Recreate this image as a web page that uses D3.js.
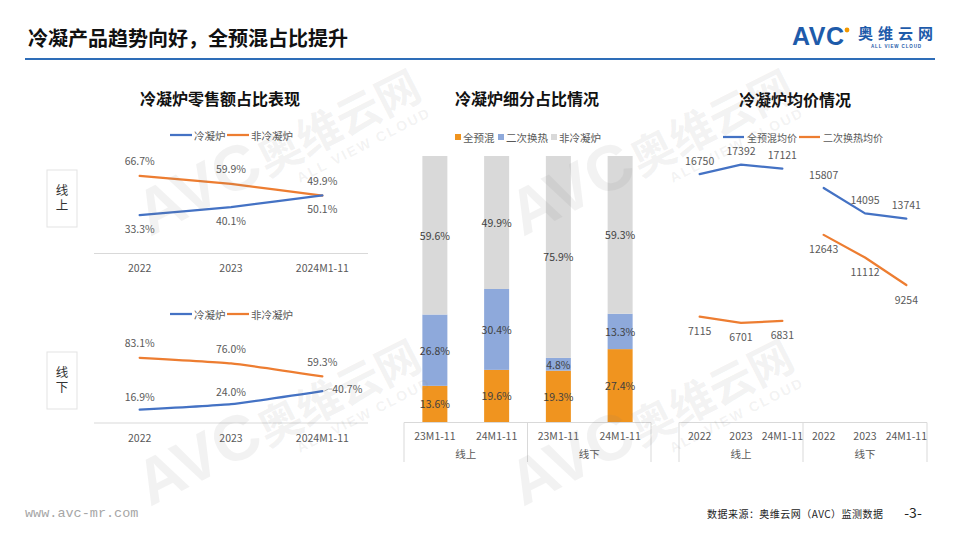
<!DOCTYPE html>
<html><head><meta charset="utf-8">
<script src="https://cdn.jsdelivr.net/npm/d3@7"></script>
<style>
html,body{margin:0;padding:0;background:#fff;}
svg{display:block;font-family:"Noto Sans CJK SC","Noto Sans",sans-serif;}
</style></head>
<body>
<svg id="chart" width="960" height="540"></svg>
<script>
// ---------------- DATA ----------------
const lineYears = ["2022", "2023", "2024M1-11"];
const lineSeriesNames = ["冷凝炉", "非冷凝炉"];
const onlineCondensing = [33.3, 40.1, 50.1];
const onlineNonCondensing = [66.7, 59.9, 49.9];
const offlineCondensing = [16.9, 24.0, 40.7];
const offlineNonCondensing = [83.1, 76.0, 59.3];

const barPeriods = ["23M1-11", "24M1-11", "23M1-11", "24M1-11"];
const barChannels = ["线上", "线上", "线下", "线下"];
const barSeriesNames = ["全预混", "二次换热", "非冷凝炉"];
const premixShare = [13.6, 19.6, 19.3, 27.4];
const secondaryShare = [26.8, 30.4, 4.8, 13.3];
const nonCondShare = [59.6, 49.9, 75.9, 59.3];

const priceYears = ["2022", "2023", "24M1-11"];
const priceChannels = ["线上", "线下"];
const priceSeriesNames = ["全预混均价", "二次换热均价"];
const premixPriceOnline = [16750, 17392, 17121];
const premixPriceOffline = [15807, 14095, 13741];
const secondaryPriceOnline = [7115, 6701, 6831];
const secondaryPriceOffline = [12643, 11112, 9254];

// ---------------- STYLE ----------------
const BLUE = "#4472C4", ORANGE = "#ED7D31";
const BAR_COLORS = ["#F0941F", "#8EA9DB", "#D9D9D9"];
const TXT = "#595959", AXIS = "#D9D9D9";
const svg = d3.select("#chart");

// Header
svg.append("text").attr("x", 28).attr("y", 37).attr("dominant-baseline", "central")
  .attr("font-size", 20).attr("font-weight", "bold").attr("fill", "#111")
  .text("冷凝产品趋势向好，全预混占比提升");
svg.append("line").attr("x1", 25).attr("x2", 935).attr("y1", 59).attr("y2", 59)
  .attr("stroke", "#2E6DB8").attr("stroke-width", 2);
// logo
svg.append("text").attr("x", 792).attr("y", 45).attr("font-family", "Liberation Sans, Arial")
  .attr("font-size", 25).attr("font-weight", "bold").attr("fill", "#1E5BAA").attr("textLength", 52).text("AVC");
svg.append("circle").attr("cx", 847).attr("cy", 30).attr("r", 2.4).attr("fill", "#F39800");
svg.append("text").attr("x", 858).attr("y", 39).attr("font-size", 15).attr("font-weight", "bold")
  .attr("fill", "#1E5BAA").attr("textLength", 75).text("奥维云网");
svg.append("text").attr("x", 871).attr("y", 47.5).attr("font-family", "Liberation Sans, Arial")
  .attr("font-size", 4.5).attr("font-weight", "bold").attr("fill", "#1E5BAA").attr("textLength", 50).text("ALL VIEW CLOUD");

// Footer
svg.append("text").attr("x", 25).attr("y", 513).attr("dominant-baseline", "central")
  .attr("font-family", "Liberation Mono, DejaVu Sans Mono").attr("font-size", 13.5).attr("fill", "#A6A6A6")
  .text("www.avc-mr.com");
svg.append("text").attr("x", 707).attr("y", 513).attr("dominant-baseline", "central")
  .attr("font-size", 10).attr("fill", "#222").attr("textLength", 176).text("数据来源：奥维云网（AVC）监测数据");
svg.append("text").attr("x", 913).attr("y", 512).attr("dominant-baseline", "central").attr("text-anchor", "middle")
  .attr("font-size", 14).attr("fill", "#222").text("-3-");

function label(g, x, y, txt, opts = {}) {
  return g.append("text").attr("x", x).attr("y", y).attr("dominant-baseline", "central")
    .attr("text-anchor", opts.anchor || "middle").attr("font-size", opts.size || 10.5)
    .attr("fill", opts.fill || TXT).attr("font-weight", opts.weight || null).text(txt);
}

// ---------------- LEFT: line charts ----------------
label(svg, 220, 98, "冷凝炉零售额占比表现", {size: 16, weight: "bold", fill: "#111"});

const xLine = d3.scaleBand().domain(lineYears).range([94, 368]);
function lineLegend(y) {
  const items = [{n: lineSeriesNames[0], c: BLUE, x: 170}, {n: lineSeriesNames[1], c: ORANGE, x: 227}];
  items.forEach(it => {
    svg.append("line").attr("x1", it.x).attr("x2", it.x + 22).attr("y1", y).attr("y2", y)
      .attr("stroke", it.c).attr("stroke-width", 2.25);
    label(svg, it.x + 24, y, it.n, {anchor: "start", size: 10.5});
  });
}
function lineChart(cfg) {
  const y = d3.scaleLinear().domain([0, 100]).range(cfg.range);
  const g = svg.append("g");
  g.append("line").attr("x1", 94).attr("x2", 368).attr("y1", cfg.axisY).attr("y2", cfg.axisY)
    .attr("stroke", AXIS).attr("stroke-width", 1);
  lineYears.forEach(yr => label(g, xLine(yr) + xLine.bandwidth() / 2, cfg.axisY + 14, yr));
  const line = d3.line().x((d, i) => xLine(lineYears[i]) + xLine.bandwidth() / 2).y(d => y(d))
    .curve(d3.curveCardinal.tension(0.6));
  cfg.series.forEach(s => {
    g.append("path").datum(s.vals).attr("d", line).attr("fill", "none")
      .attr("stroke", s.color).attr("stroke-width", 2.25).attr("stroke-linecap", "round");
    s.vals.forEach((v, i) => {
      const px = xLine(lineYears[i]) + xLine.bandwidth() / 2, py = y(v);
      const off = (s.offsets && s.offsets[i]) || [0, s.dy];
      if (off[2]) {
        g.append("path").attr("d", `M${px + 2},${py} Q${px + 6},${py - 3} ${px + 10},${py - 2}`)
          .attr("fill", "none").attr("stroke", "#A6A6A6").attr("stroke-width", 0.8);
      }
      label(g, px + off[0], py + off[1], v.toFixed(1) + "%");
    });
  });
  // channel box
  g.append("rect").attr("x", 47).attr("y", cfg.boxY).attr("width", 30).attr("height", 57)
    .attr("fill", "none").attr("stroke", "#E3E3E3").attr("stroke-width", 1);
  g.append("text").attr("x", 62).attr("y", cfg.boxY + 28.5)
    .attr("writing-mode", "vertical-rl").attr("text-anchor", "middle")
    .attr("letter-spacing", 2.5).attr("font-size", 12.5).attr("fill", "#333").text(cfg.ch);
}
lineLegend(135);
lineChart({range: [254, 137], axisY: 253.5, boxY: 170, ch: "线上",
  series: [{vals: onlineNonCondensing, color: ORANGE, dy: -15},
           {vals: onlineCondensing, color: BLUE, dy: 13}]});
lineLegend(314);
lineChart({range: [423, 344.5], axisY: 423, boxY: 352, ch: "线下",
  series: [{vals: offlineNonCondensing, color: ORANGE, dy: -15},
           {vals: offlineCondensing, color: BLUE, dy: -13, offsets: [null, null, [25, -3, true]]}]});

// ---------------- MIDDLE: stacked bars ----------------
label(svg, 527, 98, "冷凝炉细分占比情况", {size: 16, weight: "bold", fill: "#111"});
[{n: barSeriesNames[0], x: 455}, {n: barSeriesNames[1], x: 498}, {n: barSeriesNames[2], x: 551}].forEach((it, i) => {
  svg.append("rect").attr("x", it.x).attr("y", 134).attr("width", 6).attr("height", 6).attr("fill", BAR_COLORS[i]);
  label(svg, it.x + 8, 137, it.n, {anchor: "start", size: 10.5});
});
const barIdx = d3.range(barPeriods.length);
const xBar = d3.scaleBand().domain(barIdx).range([404, 651]).paddingInner(0.595).paddingOuter(0.2975);
const yBar = d3.scaleLinear().domain([0, 100]).range([422, 156]);
const barRows = barIdx.map(i => ({i, a: premixShare[i], b: secondaryShare[i], c: nonCondShare[i]}));
const stack = d3.stack().keys(["a", "b", "c"])(barRows);
const gb = svg.append("g");
stack.forEach((layer, li) => {
  layer.forEach(d => {
    const top = li === 2 ? 100 : d[1];
    gb.append("rect").attr("x", xBar(d.data.i)).attr("width", xBar.bandwidth())
      .attr("y", yBar(top)).attr("height", yBar(d[0]) - yBar(top)).attr("fill", BAR_COLORS[li]);
    const v = d[1] - d[0];
    label(gb, xBar(d.data.i) + xBar.bandwidth() / 2, (yBar(d[0]) + yBar(top)) / 2, v.toFixed(1) + "%", {fill: "#404040"});
  });
});
gb.append("line").attr("x1", 404).attr("x2", 651).attr("y1", 422.5).attr("y2", 422.5).attr("stroke", AXIS);
[404, 527.5, 651].forEach(x => gb.append("line").attr("x1", x).attr("x2", x).attr("y1", 422.5).attr("y2", 462).attr("stroke", AXIS));
barIdx.forEach(i => label(gb, xBar(i) + xBar.bandwidth() / 2, 435, barPeriods[i]));
["线上", "线下"].forEach(ch => {
  const idx = barIdx.filter(i => barChannels[i] === ch);
  const cx = d3.mean(idx, i => xBar(i) + xBar.bandwidth() / 2);
  label(gb, cx, 453, ch);
});

// ---------------- RIGHT: price lines ----------------
label(svg, 795, 99, "冷凝炉均价情况", {size: 16, weight: "bold", fill: "#111"});
[{n: priceSeriesNames[0], c: BLUE, x: 723}, {n: priceSeriesNames[1], c: ORANGE, x: 799}].forEach(it => {
  svg.append("line").attr("x1", it.x).attr("x2", it.x + 21).attr("y1", 137).attr("y2", 137)
    .attr("stroke", it.c).attr("stroke-width", 2.25);
  label(svg, it.x + 24, 137, it.n, {anchor: "start", size: 10});
});
const priceKeys = [];
priceChannels.forEach(ch => priceYears.forEach(yr => priceKeys.push(ch + "|" + yr)));
const xP = d3.scaleBand().domain(priceKeys).range([679, 927]);
const yP = d3.scaleLinear().domain([0, 20000]).range([422, 126]);
const gp = svg.append("g");
const pSeries = [
  {ch: "线上", vals: premixPriceOnline, c: BLUE, dy: -14},
  {ch: "线下", vals: premixPriceOffline, c: BLUE, dy: -14},
  {ch: "线上", vals: secondaryPriceOnline, c: ORANGE, dy: 14},
  {ch: "线下", vals: secondaryPriceOffline, c: ORANGE, dy: 14}
];
const pLine = d3.line().x(d => d.x).y(d => d.y);
pSeries.forEach(s => {
  const pts = s.vals.map((v, i) => ({x: xP(s.ch + "|" + priceYears[i]) + xP.bandwidth() / 2, y: yP(v), v}));
  gp.append("path").datum(pts).attr("d", pLine).attr("fill", "none").attr("stroke", s.c)
    .attr("stroke-width", 2.25).attr("stroke-linejoin", "round").attr("stroke-linecap", "round");
  pts.forEach(p => label(gp, p.x, p.y + s.dy, String(p.v)));
});
gp.append("line").attr("x1", 679).attr("x2", 927).attr("y1", 422.5).attr("y2", 422.5).attr("stroke", AXIS);
[679, 803, 927].forEach(x => gp.append("line").attr("x1", x).attr("x2", x).attr("y1", 422.5).attr("y2", 462).attr("stroke", AXIS));
priceKeys.forEach(k => label(gp, xP(k) + xP.bandwidth() / 2, 435, k.split("|")[1]));
priceChannels.forEach(ch => {
  const ks = priceKeys.filter(k => k.startsWith(ch));
  label(gp, d3.mean(ks, k => xP(k) + xP.bandwidth() / 2), 453, ch);
});

// ---------------- Watermarks ----------------
[[150, 237], [150, 507], [523, 237], [523, 507]].forEach(([x, y]) => {
  const w = svg.append("g").attr("transform", `translate(${x},${y}) rotate(-27)`)
    .attr("fill", "#808080").attr("fill-opacity", 0.1).attr("pointer-events", "none");
  w.append("text").attr("x", 0).attr("y", 0).attr("font-family", "Liberation Sans, Arial")
    .attr("font-size", 64).attr("font-weight", "bold").text("AVC");
  w.append("text").attr("x", 132).attr("y", 0).attr("font-size", 44).attr("font-weight", "bold").text("奥维云网");
  w.append("text").attr("x", 158).attr("y", 20).attr("font-family", "Liberation Sans, Arial")
    .attr("font-size", 14).attr("font-weight", "bold").attr("letter-spacing", 2).text("ALL VIEW CLOUD");
});
</script>
</body></html>
